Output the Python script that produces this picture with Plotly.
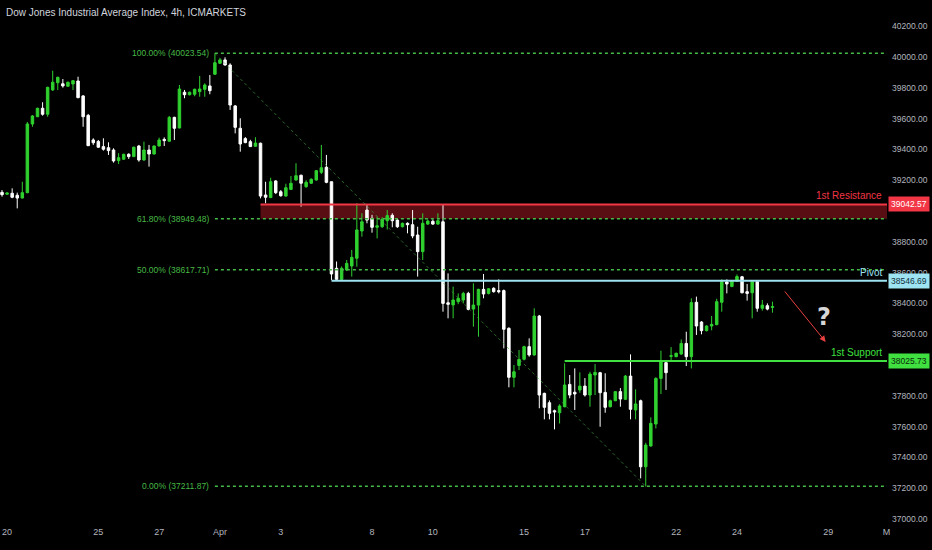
import plotly.graph_objects as go

title_text = "Dow Jones Industrial Average Index, 4h, ICMARKETS"

opens = [39121, 39109, 39115, 39102, 39084, 39119, 39565, 39612, 39667, 39628,
         39786, 39833, 39826, 39810, 39825, 39844, 39747, 39621, 39461, 39452,
         39418, 39411, 39396, 39327, 39336, 39368, 39353, 39422, 39331, 39396,
         39370, 39422, 39465, 39453, 39608, 39539, 39771, 39755, 39758, 39775,
         39790, 39812, 39888, 39959, 39981, 39948, 39682, 39537, 39470, 39450,
         39420, 39440, 39104, 39087, 39195, 39125, 39097, 39140, 39201, 39232,
         39158, 39180, 39201, 39251, 39284, 39190, 38628, 38556, 38617, 38643,
         38693, 38870, 39006, 38952, 38894, 38898, 38937, 38972, 38941, 38898,
         38920, 38911, 38844, 38736, 38915, 38933, 38915, 38930, 38404, 38390,
         38411, 38422, 38465, 38363, 38389, 38491, 38465, 38498, 38483, 38483,
         38238, 37920, 37997, 38037, 38119, 38065, 38318, 37816, 37755, 37703,
         37690, 37729, 37874, 37823, 37838, 37863, 37805, 37935, 37950, 37822,
         37729, 37768, 37827, 37777, 37928, 37708, 37768, 37339, 37474, 37617,
         37913, 38015, 38056, 38054, 38071, 38140, 38054, 38407, 38279, 38223,
         38253, 38262, 38407, 38539, 38510, 38543, 38573, 38476, 38469, 38541,
         38368, 38385, 38374]
highs = [39136, 39120, 39147, 39119, 39190, 39578, 39623, 39670, 39706, 39807,
         39911, 39872, 39857, 39840, 39850, 39872, 39753, 39630, 39472, 39461,
         39472, 39446, 39407, 39375, 39372, 39375, 39418, 39429, 39450, 39429,
         39425, 39476, 39478, 39617, 39612, 39818, 39786, 39775, 39795, 39877,
         39829, 39883, 40024, 39992, 39998, 39959, 39688, 39602, 39480, 39462,
         39479, 39444, 39190, 39216, 39200, 39136, 39177, 39227, 39310, 39236,
         39200, 39212, 39266, 39429, 39364, 39190, 38672, 38640, 38682, 38747,
         39050, 38985, 39045, 38975, 38963, 38960, 39006, 38985, 38950, 38925,
         38926, 39006, 38898, 38985, 38945, 38945, 38985, 39045, 38595, 38509,
         38465, 38475, 38475, 38530, 38495, 38591, 38500, 38505, 38556, 38490,
         38245, 38000, 38097, 38125, 38173, 38368, 38325, 37820, 37770, 37710,
         37745, 38011, 37935, 37978, 37952, 37915, 37956, 38006, 37955, 37946,
         37775, 37830, 37850, 37935, 38069, 37842, 37775, 37495, 37660, 37920,
         38093, 38020, 38116, 38080, 38166, 38216, 38433, 38444, 38285, 38258,
         38318, 38430, 38556, 38556, 38550, 38588, 38578, 38526, 38552, 38546,
         38422, 38400, 38411]
lows = [39093, 39105, 39083, 39017, 39082, 39115, 39547, 39610, 39619, 39612,
        39780, 39786, 39801, 39805, 39786, 39732, 39547, 39422, 39429, 39410,
        39392, 39364, 39314, 39305, 39332, 39338, 39350, 39320, 39327, 39288,
        39366, 39420, 39422, 39450, 39461, 39537, 39732, 39750, 39745, 39742,
        39742, 39758, 39883, 39955, 39944, 39656, 39504, 39385, 39440, 39418,
        39418, 39082, 39050, 39084, 39110, 39093, 39093, 39136, 39197, 39028,
        39150, 39176, 39197, 39240, 39180, 38552, 38545, 38545, 38610, 38574,
        38638, 38833, 38920, 38859, 38822, 38890, 38880, 38894, 38890, 38893,
        38855, 38823, 38574, 38682, 38910, 38910, 38910, 38346, 38303, 38303,
        38395, 38400, 38355, 38249, 38184, 38433, 38458, 38470, 38465, 38108,
        37855, 37855, 37967, 38030, 38054, 38060, 37719, 37647, 37647, 37582,
        37620, 37725, 37784, 37708, 37820, 37795, 37729, 37805, 37599, 37690,
        37725, 37765, 37729, 37772, 37647, 37647, 37264, 37211, 37470, 37588,
        37812, 37838, 38032, 38050, 38066, 37993, 37978, 38195, 38199, 38218,
        38225, 38258, 38346, 38465, 38505, 38540, 38465, 38418, 38303, 38346,
        38353, 38355, 38340]
closes = [39106, 39117, 39089, 39084, 39119, 39565, 39617, 39667, 39628, 39803,
          39836, 39868, 39812, 39836, 39846, 39736, 39612, 39424, 39443, 39414,
          39401, 39392, 39325, 39346, 39368, 39353, 39414, 39331, 39396, 39370,
          39422, 39461, 39457, 39608, 39537, 39792, 39755, 39771, 39790, 39792,
          39818, 39781, 39963, 39981, 39948, 39688, 39543, 39435, 39444, 39418,
          39441, 39097, 39089, 39190, 39119, 39099, 39151, 39180, 39229, 39180,
          39186, 39206, 39262, 39281, 39186, 38591, 38556, 38628, 38660, 38699,
          38877, 38930, 38941, 38894, 38904, 38946, 38970, 38937, 38898, 38920,
          38911, 38838, 38736, 38920, 38935, 38915, 38937, 38400, 38394, 38422,
          38433, 38465, 38361, 38389, 38491, 38461, 38495, 38476, 38476, 38232,
          37920, 37956, 38036, 38119, 38065, 38318, 37805, 37725, 37686, 37695,
          37734, 37870, 37805, 37812, 37863, 37805, 37941, 37952, 37820, 37725,
          37768, 37827, 37779, 37928, 37712, 37747, 37339, 37480, 37621, 37913,
          38026, 37950, 38060, 38076, 38140, 38054, 38405, 38253, 38223, 38253,
          38264, 38411, 38541, 38526, 38545, 38574, 38469, 38465, 38541, 38368,
          38389, 38363, 38379]
bar_index = list(range(len(opens)))

day_ticks = [1, 19, 31, 43, 55, 73, 85, 103, 115, 133, 145, 163, 174.5]
day_labels = ["20", "25", "27", "Apr", "3", "8", "10", "15", "17", "22", "24", "29", "M"]
# 38000 and 39000 sit under the price tags in the reference
price_ticks = [v for v in range(37000, 40201, 200) if v not in (38000, 39000)]

fib_levels = [40023.54, 38949.48, 38617.71, 37211.87]
fib_labels = ["100.00% (40023.54)", "61.80% (38949.48)", "50.00% (38617.71)", "0.00% (37211.87)"]
fib_start_bar = 42
swing_high_bar, swing_low_bar = 42, 127

resistance_level, resistance_start = 39042.57, 51
pivot_level, pivot_start = 38546.69, 65
support_level, support_start = 38025.73, 111

arrow_from = (154.2, 38487)
arrow_to = (162.5, 38150)
question_pos = (162.2, 38310)

X_RANGE = [-0.4, 174.6]
Y_RANGE = [36961, 40370]

GREEN = "#2fd12f"
FIB = "#46b946"
RED = "#f23645"
CYAN = "#9ee3f2"
SUP = "#3fe03f"
FONT = "Liberation Sans, Arial, sans-serif"

fig = go.Figure()
fig.add_trace(go.Candlestick(
    x=bar_index, open=opens, high=highs, low=lows, close=closes,
    increasing=dict(line=dict(color=GREEN, width=1), fillcolor=GREEN),
    decreasing=dict(line=dict(color="#ffffff", width=1), fillcolor="#ffffff"),
    whiskerwidth=0, showlegend=False, hoverinfo="skip"))

shapes = []
shapes.append(dict(type="rect", xref="x", yref="y", x0=resistance_start, x1=X_RANGE[1],
                   y0=fib_levels[1], y1=resistance_level, fillcolor="rgba(160,25,35,0.55)",
                   line=dict(width=0), layer="below"))
shapes.append(dict(type="line", xref="x", yref="y", x0=resistance_start, x1=X_RANGE[1],
                   y0=resistance_level, y1=resistance_level, line=dict(color=RED, width=2)))
for lv in fib_levels:
    shapes.append(dict(type="line", xref="x", yref="y", x0=fib_start_bar, x1=X_RANGE[1],
                       y0=lv, y1=lv, line=dict(color=FIB, width=1.5, dash="dot")))
shapes.append(dict(type="line", xref="x", yref="y", x0=swing_high_bar, x1=swing_low_bar,
                   y0=fib_levels[0], y1=fib_levels[3],
                   line=dict(color="rgba(70,170,70,0.6)", width=1, dash="dot")))
shapes.append(dict(type="line", xref="x", yref="y", x0=pivot_start, x1=X_RANGE[1],
                   y0=pivot_level, y1=pivot_level, line=dict(color=CYAN, width=2)))
shapes.append(dict(type="line", xref="x", yref="y", x0=support_start, x1=X_RANGE[1],
                   y0=support_level, y1=support_level, line=dict(color=SUP, width=2)))

annotations = []
annotations.append(dict(text=title_text, xref="paper", yref="paper", x=0.004, y=1,
                        xanchor="left", yanchor="top", yshift=-5, showarrow=False,
                        font=dict(family=FONT, size=10, color="#d1d4dc")))
for lv, lb in zip(fib_levels, fib_labels):
    annotations.append(dict(text=lb, xref="x", yref="y", x=fib_start_bar, y=lv,
                            xanchor="right", yanchor="middle", xshift=-4, showarrow=False,
                            font=dict(family=FONT, size=8.5, color=FIB)))
for txt, lv, col in [("1st Resistance", resistance_level, RED), ("Pivot", pivot_level, CYAN),
                     ("1st Support", support_level, SUP)]:
    annotations.append(dict(text=txt, xref="paper", yref="y", x=1, y=lv, xanchor="right",
                            yanchor="bottom", xshift=-3, yshift=1, showarrow=False,
                            font=dict(family=FONT, size=10, color=col)))
for lv, bg, fg in [(resistance_level, RED, "#ffffff"), (pivot_level, CYAN, "#10303a"),
                   (support_level, SUP, "#0a2a0a")]:
    annotations.append(dict(text=f"{lv:.2f}", xref="paper", yref="y", x=1, y=lv,
                            xanchor="left", yanchor="middle", xshift=1, showarrow=False,
                            bgcolor=bg, borderpad=2,
                            font=dict(family=FONT, size=8.5, color=fg)))
annotations.append(dict(text="", xref="x", yref="y", axref="x", ayref="y",
                        x=arrow_to[0], y=arrow_to[1], ax=arrow_from[0], ay=arrow_from[1],
                        showarrow=True, arrowhead=2, arrowsize=1.2, arrowwidth=1,
                        arrowcolor="#e8403f"))
annotations.append(dict(text="<b>?</b>", xref="x", yref="y", x=question_pos[0], y=question_pos[1],
                        showarrow=False, font=dict(family="DejaVu Sans", size=24, color="#d6d6d6")))

fig.update_layout(
    width=932, height=550,
    margin=dict(l=0, r=45, t=0, b=25),
    paper_bgcolor="#000000", plot_bgcolor="#000000",
    shapes=shapes, annotations=annotations,
    xaxis=dict(range=X_RANGE, tickvals=day_ticks, ticktext=day_labels, showgrid=False,
               zeroline=False, showline=False, ticks="", rangeslider=dict(visible=False),
               tickfont=dict(family=FONT, size=9, color="#b2b5be")),
    yaxis=dict(range=Y_RANGE, side="right", tickvals=price_ticks,
               ticktext=[f"{v:.2f}" for v in price_ticks], showgrid=False, zeroline=False,
               showline=False, ticks="", ticklabelstandoff=4,
               tickfont=dict(family=FONT, size=8.5, color="#b2b5be")),
)

fig.write_html("out.html", config={"displayModeBar": False},
               post_script="document.body.style.margin='0';document.body.style.background='#000';")
